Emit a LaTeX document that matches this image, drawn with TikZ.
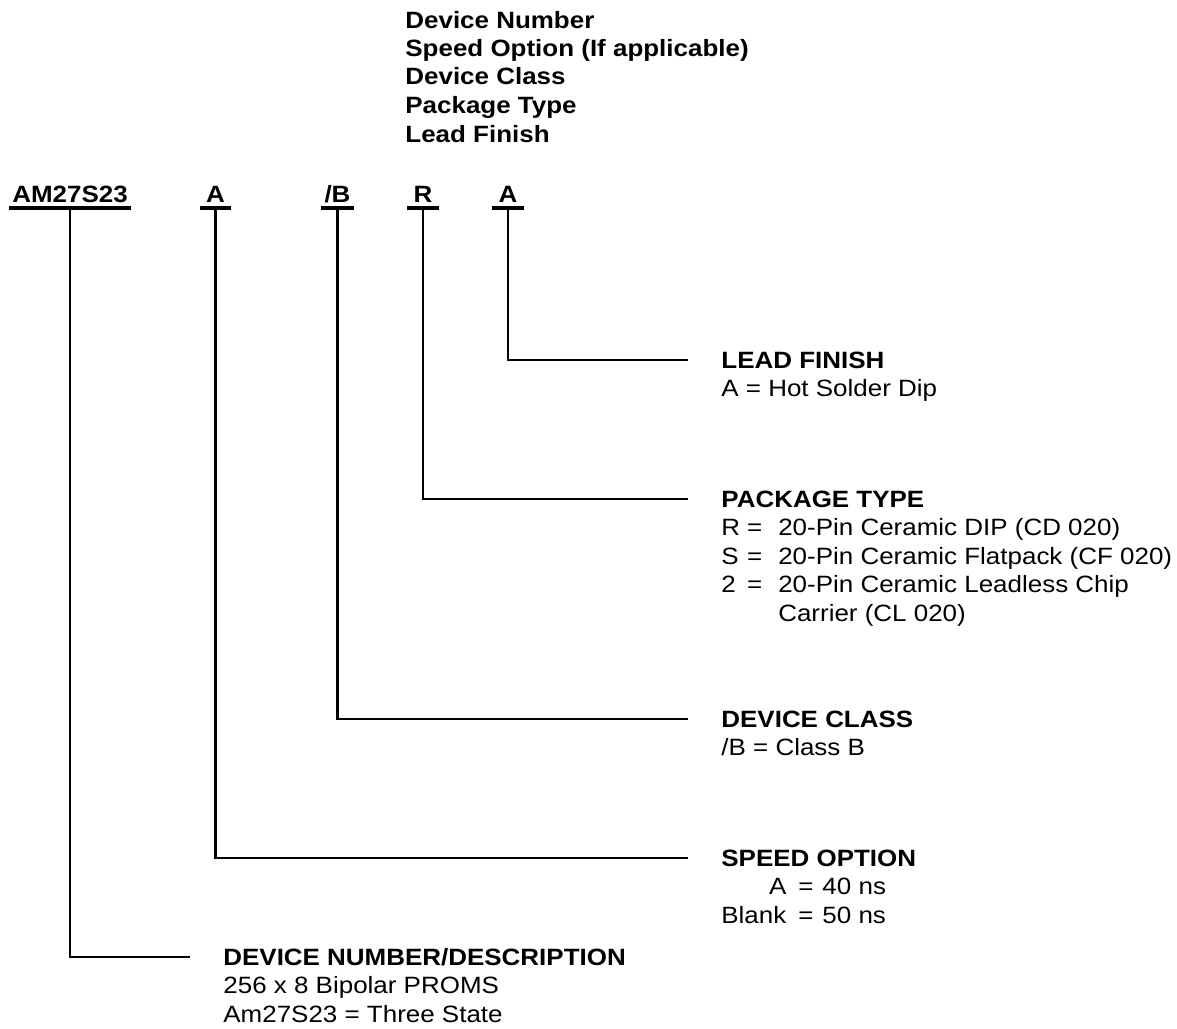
\documentclass[tikz,border=0pt]{standalone}
\usepackage{fontspec}
\setmainfont{Liberation Sans}[FakeStretch=1.1]
\usetikzlibrary{positioning}

\newcommand{\txtfont}{\fontsize{11.8}{14.25}\selectfont}

\begin{document}
\begin{tikzpicture}[x=0.5pt,y=-0.5pt,
    every node/.style={font=\txtfont,inner sep=0pt},
    code/.style={font=\txtfont\bfseries,anchor=base,text depth=0pt,
                 inner xsep=1.5pt,inner ysep=3pt,minimum width=15.5pt},
    head/.style={font=\txtfont\bfseries,anchor=base west},
    body/.style={anchor=base west},
    uline/.style={line width=2pt},
    wire/.style={line width=1.2pt,shorten >=16.5pt}]

        \useasboundingbox (0,0) rectangle (1177,1028);

        % legend at the top
        \node[head] (legend) at (405,28) {\begin{tabular}[t]{@{}l@{}}
            Device Number\\ Speed Option (If applicable)\\ Device Class\\
            Package Type\\ Lead Finish\end{tabular}};

        % the order code
        \node[code] (devno) at (70,202) {AM27S23};
        \node[code] (speed) at (215.5,202) {A};
        \node[code] (class) at (337.5,202) {/B};
        \node[code] (pkg) at (423,202) {R};
        \node[code] (lead) at (508,202) {A};

        \foreach \n in {devno,speed,class,pkg,lead}
            \draw[uline] (\n.south west) -- (\n.south east);

        % explanations
        \node[head] (leadhd) at (721,368) {LEAD FINISH};
        \node[body] (leadtx) at ([yshift=-14.25pt]leadhd.base west)
            {A = Hot Solder Dip};

        \node[head] (pkghd) at (721,507) {PACKAGE TYPE};
        \node[body] (pkgtx) at ([yshift=-14.25pt]pkghd.base west)
            {\begin{tabular}[t]{@{}l@{\hspace{3.5pt}=\hspace{8pt}}l@{}}
            R & 20-Pin Ceramic DIP (CD 020)\\
            S & 20-Pin Ceramic Flatpack (CF 020)\\
            2 & 20-Pin Ceramic Leadless Chip\\
              \multicolumn{1}{l}{} & Carrier (CL 020)\end{tabular}};

        \node[head] (classhd) at (721,727) {DEVICE CLASS};
        \node[body] (classtx) at ([yshift=-14.25pt]classhd.base west)
            {/B = Class B};

        \node[head] (speedhd) at (721,866) {SPEED OPTION};
        \node[body] (speedtx) at ([yshift=-14.25pt]speedhd.base west)
            {\begin{tabular}[t]{@{}r@{\hspace{6pt}=\hspace{4.5pt}}l@{}}
            A & 40 ns\\ Blank & 50 ns\end{tabular}};

        \node[head] (devhd) at (223,965) {DEVICE NUMBER/DESCRIPTION};
        \node[body] (devtx) at ([yshift=-14.25pt]devhd.base west)
            {\begin{tabular}[t]{@{}l@{}}
            256 x 8 Bipolar PROMS\\ Am27S23 = Three State\end{tabular}};

        % connectors
        \draw[wire] (lead.south) |- (leadhd.west);
        \draw[wire] (pkg.south) |- (pkghd.west);
        \draw[wire] (class.south) |- (classhd.west);
        \draw[wire] (speed.south) |- (speedhd.west);
        \draw[wire] (devno.south) |- (devhd.west);
\end{tikzpicture}
\end{document}
